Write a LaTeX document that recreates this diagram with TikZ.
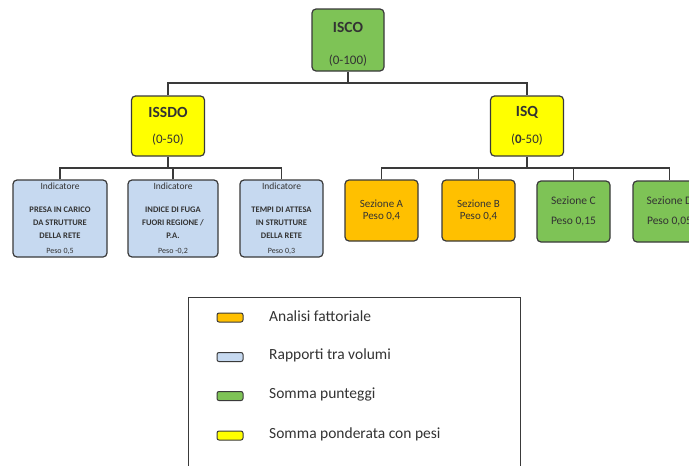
\documentclass[tikz,border=0pt]{standalone}
\usepackage{fontspec}
\setmainfont{Carlito}
\definecolor{gr}{HTML}{7EC356}
\definecolor{ye}{HTML}{FFFF00}
\definecolor{orr}{HTML}{FFC000}
\definecolor{bl}{HTML}{C6D9F0}
\definecolor{bd}{HTML}{3A3A3A}
\definecolor{tx}{HTML}{333333}
\newcommand\mySmall[1]{{\fontsize{9.5}{10}\selectfont #1}}
\newcommand\myPeso[1]{{\fontsize{8}{9}\selectfont #1}}
\newcommand\myBold[1]{{\bfseries\fontsize{8.5}{10}\selectfont #1}}
\tikzset{
  box/.style={draw=bd, line width=1.2pt, rounded corners=4pt, align=center, inner sep=0pt, text=tx},
  conn/.style={draw=bd, line width=1.1pt},
  swatch/.style={draw=bd, line width=1pt, rounded corners=2pt, minimum width=26pt, minimum height=9pt, inner sep=0pt},
  legtxt/.style={anchor=west, text=tx, font=\fontsize{15.5}{17}\selectfont, inner sep=0pt},
  toptitle/.style={text=tx, inner sep=0pt, font=\bfseries\fontsize{15.5}{16}\selectfont},
  toprange/.style={text=tx, inner sep=0pt, font=\fontsize{13}{14}\selectfont},
  indbox/.style={box, fill=bl, minimum height=77pt, font=\fontsize{8.5}{13}\selectfont},
  secbox/.style={box, minimum width=73pt, minimum height=61pt},
}
\begin{document}
\begin{tikzpicture}[x=1pt,y=-1pt]
\useasboundingbox (0,0) rectangle (689,466);
\clip (0,0) rectangle (689,466);
\fill[white] (0,0) rectangle (689,466);

% top boxes
\node[box, fill=gr, minimum width=72pt, minimum height=62pt] (isco) at (348,40) {};
\node[toptitle] (isco-t) at (348,27) {ISCO};
\node[toprange] (isco-r) at (348,61) {(0-100)};
\node[box, fill=ye, minimum width=73pt, minimum height=60pt] (issdo) at (168,126) {};
\node[toptitle] (issdo-t) at (168,112) {ISSDO};
\node[toprange] (issdo-r) at (168,140) {(0-50)};
\node[box, fill=ye, minimum width=73pt, minimum height=60pt] (isq) at (527,126) {};
\node[toptitle] (isq-t) at (527,112) {ISQ};
\node[toprange] (isq-r) at (527,140) {(\textbf{0}-50)};

% blue indicator boxes
\node[indbox, minimum width=94pt] (b1) at (60,218.5)
  {\mySmall{Indicatore}\\[10pt]\myBold{PRESA IN CARICO}\\\myBold{DA STRUTTURE}\\\myBold{DELLA RETE}\\[2pt]\myPeso{Peso 0,5}};
\node[indbox, minimum width=90pt] (b2) at (173,218.5)
  {\mySmall{Indicatore}\\[10pt]\myBold{INDICE DI FUGA}\\\myBold{FUORI REGIONE /}\\\myBold{P.A.}\\[2pt]\myPeso{Peso -0,2}};
\node[indbox, minimum width=83pt] (b3) at (281.5,218.5)
  {\mySmall{Indicatore}\\[10pt]\myBold{TEMPI DI ATTESA}\\\myBold{IN STRUTTURE}\\\myBold{DELLA RETE}\\[2pt]\myPeso{Peso 0,3}};

% sections
\node[secbox, fill=orr, font=\fontsize{11}{12.5}\selectfont] (sa) at (381.5,210.5)
  {Sezione A\\Peso 0,4};
\node[secbox, fill=orr, font=\fontsize{11}{12.5}\selectfont] (sb) at (478.5,210.5)
  {Sezione B\\Peso 0,4};
\node[secbox, fill=gr, font=\fontsize{11.5}{20}\selectfont] (sc) at (573.5,211.5)
  {Sezione C\\Peso 0,15};
\node[secbox, fill=gr, font=\fontsize{11.5}{20}\selectfont] (sd) at (669.5,211.5)
  {Sezione D\\Peso 0,05};

% connectors
\coordinate (bus1) at (348,83);
\coordinate (bus2) at (168,168);
\coordinate (bus3) at (527,168);
\draw[conn] (isco.south) -- (bus1);
\draw[conn] (issdo.north) |- (bus1) -| (isq.north);
\draw[conn] (issdo.south) -- (bus2);
\draw[conn] (b1.north) |- (bus2) -| (b3.north);
\draw[conn] (b2.north) -- (b2.north |- bus2);
\draw[conn] (isq.south) -- (bus3);
\draw[conn] (sa.north) |- (bus3) -| (sd.north);
\draw[conn] (sb.north) -- (sb.north |- bus3);
\draw[conn] (sc.north) -- (sc.north |- bus3);

% legend
\node[draw=bd, line width=1.2pt, minimum width=332pt, minimum height=190pt, inner sep=0pt, anchor=north west] (legend) at (188,297) {};
\node[swatch, fill=orr] (s1) at (230,317.5) {};
\node[swatch, fill=bl] (s2) at (230,357) {};
\node[swatch, fill=gr] (s3) at (230,396) {};
\node[swatch, fill=ye] (s4) at (230,435.5) {};
\node[legtxt] (l1) at (269,316) {Analisi fattoriale};
\node[legtxt] (l2) at (269,355.5) {Rapporti tra volumi};
\node[legtxt] (l3) at (269,394.5) {Somma punteggi};
\node[legtxt] (l4) at (269,434) {Somma ponderata con pesi};
\end{tikzpicture}
\end{document}
